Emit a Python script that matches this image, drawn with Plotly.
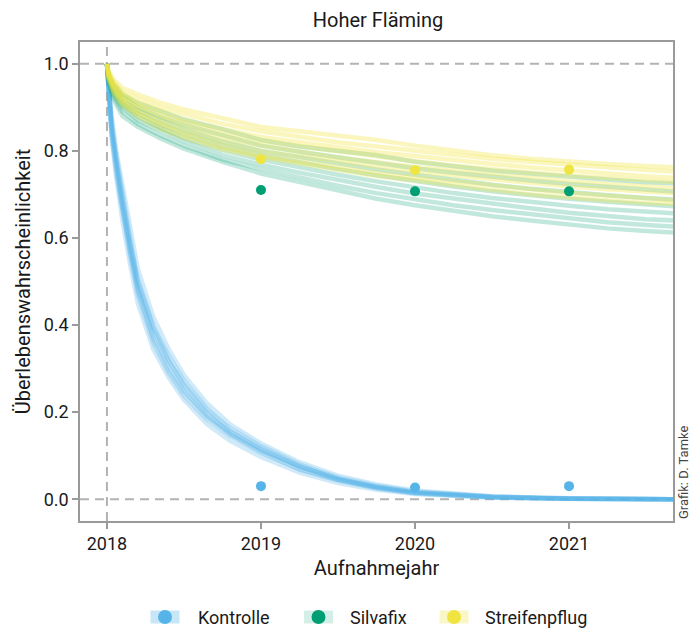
import plotly.graph_objects as go

# ---------------- data ----------------
groups = ["Kontrolle", "Silvafix", "Streifenpflug"]
colors = {"Kontrolle": "#56B4E9", "Silvafix": "#009E73", "Streifenpflug": "#F0E442"}
line_rgba = {"Kontrolle": "rgba(86,180,233,0.28)",
             "Silvafix": "rgba(0,158,115,0.24)",
             "Streifenpflug": "rgba(240,228,66,0.35)"}
legend_key_fill = {"Kontrolle": "rgba(86,180,233,0.33)",
                   "Silvafix": "rgba(0,158,115,0.17)",
                   "Streifenpflug": "rgba(240,228,66,0.30)"}

# time grid of the Kontrolle curves (years)
t_kontrolle = [2018.0, 2018.01, 2018.03, 2018.06, 2018.1, 2018.15, 2018.2, 2018.3, 2018.4, 2018.5,
               2018.65, 2018.8, 2019.0, 2019.25, 2019.5, 2019.75, 2020.0, 2020.5, 2021.0, 2021.7]
# time grid of the Silvafix / Streifenpflug curves (years)
t_treat = [2018.0, 2018.01, 2018.04, 2018.1, 2018.2, 2018.35, 2018.5, 2018.75, 2019.0, 2019.25,
           2019.5, 2019.75, 2020.0, 2020.25, 2020.5, 2020.75, 2021.0, 2021.25, 2021.5, 2021.7]

kontrolle_curves = [
    [1, 0.96, 0.88, 0.80, 0.72, 0.62, 0.53, 0.42, 0.345, 0.285, 0.22, 0.172, 0.128, 0.085, 0.054, 0.034, 0.020, 0.007, 0.002, 0],
    [1, 0.93, 0.83, 0.74, 0.64, 0.54, 0.45, 0.345, 0.28, 0.228, 0.172, 0.134, 0.097, 0.061, 0.037, 0.022, 0.012, 0.004, 0.001, 0],
    [1, 0.95, 0.87, 0.79, 0.70, 0.60, 0.50, 0.395, 0.33, 0.272, 0.208, 0.158, 0.115, 0.076, 0.046, 0.029, 0.016, 0.005, 0.001, 0],
    [1, 0.93, 0.84, 0.75, 0.66, 0.56, 0.47, 0.36, 0.29, 0.238, 0.183, 0.145, 0.108, 0.068, 0.043, 0.025, 0.013, 0.004, 0.001, 0],
    [1, 0.94, 0.85, 0.78, 0.69, 0.585, 0.495, 0.39, 0.318, 0.265, 0.205, 0.163, 0.122, 0.080, 0.050, 0.031, 0.018, 0.006, 0.002, 0],
    [1, 0.95, 0.86, 0.77, 0.67, 0.57, 0.485, 0.37, 0.298, 0.246, 0.188, 0.148, 0.107, 0.069, 0.044, 0.026, 0.015, 0.005, 0.001, 0],
    [1, 0.94, 0.86, 0.78, 0.685, 0.59, 0.505, 0.40, 0.32, 0.26, 0.197, 0.150, 0.112, 0.074, 0.047, 0.028, 0.016, 0.006, 0.001, 0],
    [1, 0.93, 0.84, 0.76, 0.67, 0.575, 0.48, 0.375, 0.305, 0.25, 0.192, 0.155, 0.117, 0.075, 0.046, 0.027, 0.014, 0.004, 0.001, 0],
]

silvafix_curves = [
    [1, 0.975, 0.955, 0.93, 0.91, 0.89, 0.872, 0.85, 0.825, 0.81, 0.80, 0.79, 0.775, 0.765, 0.755, 0.748, 0.74, 0.734, 0.728, 0.725],
    [1, 0.975, 0.95, 0.925, 0.90, 0.878, 0.86, 0.835, 0.812, 0.798, 0.785, 0.772, 0.76, 0.75, 0.74, 0.732, 0.724, 0.717, 0.71, 0.706],
    [1, 0.97, 0.945, 0.915, 0.893, 0.87, 0.85, 0.822, 0.80, 0.785, 0.77, 0.757, 0.745, 0.733, 0.722, 0.713, 0.705, 0.698, 0.692, 0.688],
    [1, 0.97, 0.94, 0.91, 0.885, 0.86, 0.84, 0.812, 0.79, 0.773, 0.758, 0.744, 0.73, 0.718, 0.707, 0.698, 0.69, 0.683, 0.676, 0.672],
    [1, 0.965, 0.935, 0.905, 0.878, 0.852, 0.83, 0.802, 0.78, 0.762, 0.745, 0.73, 0.716, 0.703, 0.692, 0.682, 0.674, 0.666, 0.66, 0.656],
    [1, 0.965, 0.93, 0.90, 0.87, 0.845, 0.822, 0.79, 0.768, 0.75, 0.733, 0.717, 0.702, 0.69, 0.678, 0.668, 0.658, 0.65, 0.643, 0.64],
    [1, 0.96, 0.925, 0.89, 0.862, 0.835, 0.812, 0.78, 0.758, 0.738, 0.72, 0.703, 0.688, 0.675, 0.664, 0.654, 0.645, 0.636, 0.63, 0.626],
    [1, 0.96, 0.92, 0.88, 0.855, 0.828, 0.805, 0.775, 0.748, 0.728, 0.708, 0.69, 0.675, 0.662, 0.65, 0.64, 0.63, 0.622, 0.616, 0.612],
]

streifenpflug_curves = [
    [1, 0.985, 0.965, 0.945, 0.93, 0.91, 0.895, 0.875, 0.855, 0.845, 0.835, 0.825, 0.812, 0.80, 0.79, 0.782, 0.775, 0.77, 0.765, 0.762],
    [1, 0.98, 0.96, 0.935, 0.92, 0.90, 0.885, 0.862, 0.845, 0.832, 0.82, 0.81, 0.80, 0.79, 0.782, 0.775, 0.768, 0.762, 0.756, 0.752],
    [1, 0.98, 0.955, 0.93, 0.91, 0.89, 0.872, 0.85, 0.832, 0.82, 0.808, 0.797, 0.788, 0.778, 0.77, 0.762, 0.754, 0.748, 0.742, 0.738],
    [1, 0.975, 0.95, 0.925, 0.905, 0.882, 0.865, 0.84, 0.822, 0.81, 0.798, 0.787, 0.776, 0.766, 0.757, 0.75, 0.743, 0.737, 0.732, 0.728],
    [1, 0.975, 0.95, 0.92, 0.898, 0.875, 0.855, 0.83, 0.812, 0.798, 0.785, 0.774, 0.763, 0.755, 0.746, 0.738, 0.73, 0.724, 0.718, 0.714],
    [1, 0.97, 0.945, 0.915, 0.89, 0.865, 0.845, 0.82, 0.80, 0.787, 0.775, 0.763, 0.752, 0.743, 0.734, 0.725, 0.718, 0.712, 0.706, 0.702],
    [1, 0.97, 0.94, 0.91, 0.885, 0.86, 0.838, 0.81, 0.79, 0.776, 0.763, 0.75, 0.74, 0.73, 0.72, 0.712, 0.704, 0.697, 0.69, 0.686],
    [1, 0.965, 0.935, 0.905, 0.878, 0.85, 0.83, 0.803, 0.785, 0.77, 0.755, 0.742, 0.732, 0.72, 0.71, 0.70, 0.692, 0.686, 0.68, 0.678],
]

# observed survival (points)
obs_years = [2019, 2020, 2021]
obs_kontrolle = [0.030, 0.027, 0.030]
obs_silvafix = [0.710, 0.707, 0.707]
obs_streifenpflug = [0.781, 0.756, 0.757]

x_ticks = [2018, 2019, 2020, 2021]
y_ticks = [0.0, 0.2, 0.4, 0.6, 0.8, 1.0]

curves = {"Kontrolle": (t_kontrolle, kontrolle_curves),
          "Silvafix": (t_treat, silvafix_curves),
          "Streifenpflug": (t_treat, streifenpflug_curves)}
obs = {"Kontrolle": obs_kontrolle, "Silvafix": obs_silvafix, "Streifenpflug": obs_streifenpflug}

# ---------------- figure ----------------
FONT = "Roboto"
TXT = "#1a1a1a"
W, H = 692, 628
ML, MR, MT, MB = 80, 19, 42, 107
PW, PH = W - ML - MR, H - MT - MB

def px2paper(px, py):
    return (px - ML) / PW, (H - MB - py) / PH

fig = go.Figure()

for g in groups:
    tt, cs = curves[g]
    for c in cs:
        fig.add_trace(go.Scatter(x=tt, y=c, mode="lines", showlegend=False, hoverinfo="skip",
                                 line=dict(color=line_rgba[g], width=4.5)))

for g in groups:
    fig.add_trace(go.Scatter(x=obs_years, y=obs[g], mode="markers", showlegend=False, name=g,
                             marker=dict(color=colors[g], size=10, line=dict(width=0))))

dash_col = "#b3b3b3"
shapes = [
    dict(type="line", xref="paper", yref="y", x0=0, x1=1, y0=0, y1=0,
         line=dict(color=dash_col, width=2, dash="9px,6px"), layer="below"),
    dict(type="line", xref="paper", yref="y", x0=0, x1=1, y0=1, y1=1,
         line=dict(color=dash_col, width=2, dash="9px,6px"), layer="below"),
    dict(type="line", xref="x", yref="paper", x0=2018, x1=2018, y0=0, y1=1,
         line=dict(color=dash_col, width=2, dash="9px,6px"), layer="below"),
]

annotations = []
# custom legend at the bottom (key = light line band + dot, then label)
legend_y = 617
legend_keys = {"Kontrolle": (165, 196), "Silvafix": (318.5, 348), "Streifenpflug": (454, 483)}
for g in groups:
    cx, tx = legend_keys[g]
    x0, y0 = px2paper(cx - 14.5, legend_y + 6.5)
    x1, y1 = px2paper(cx + 14.5, legend_y - 6.5)
    shapes.append(dict(type="rect", xref="paper", yref="paper", x0=x0, x1=x1, y0=y0, y1=y1,
                       fillcolor=legend_key_fill[g], line=dict(width=0), layer="above"))
    x0, y0 = px2paper(cx - 7, legend_y + 7)
    x1, y1 = px2paper(cx + 7, legend_y - 7)
    shapes.append(dict(type="circle", xref="paper", yref="paper", x0=x0, x1=x1, y0=y0, y1=y1,
                       fillcolor=colors[g], line=dict(width=0), layer="above"))
    ax, ay = px2paper(tx, legend_y)
    annotations.append(dict(text=g, xref="paper", yref="paper", x=ax, y=ay, xanchor="left",
                            yanchor="middle", showarrow=False, font=dict(size=18, color=TXT)))

gx, gy = px2paper(683, 521)
annotations.append(dict(text="Grafik: D. Tamke", xref="paper", yref="paper", x=gx, y=gy,
                        xanchor="center", yanchor="bottom", textangle=-90,
                        showarrow=False, font=dict(size=13, color="#444444")))

fig.update_layout(
    width=W, height=H,
    margin=dict(l=ML, r=MR, t=MT, b=MB),
    paper_bgcolor="white", plot_bgcolor="white",
    font=dict(family=FONT, size=18, color=TXT),
    title=dict(text="Hoher Fläming", x=378 / W, xanchor="center", y=1 - 20 / H, yanchor="middle",
               font=dict(size=20, color=TXT)),
    shapes=shapes,
    annotations=annotations,
    showlegend=False,
    xaxis=dict(range=[2017.825, 2021.675], tickvals=x_ticks, ticktext=[str(v) for v in x_ticks],
               showgrid=False, zeroline=False, showline=True, mirror=True, automargin=False,
               linecolor="#9a9a9a", linewidth=1.5, ticks="outside", ticklen=6,
               tickcolor="#9a9a9a", tickwidth=1.5, tickfont=dict(size=18, color=TXT),
               title=dict(text="Aufnahmejahr", font=dict(size=20, color=TXT), standoff=8)),
    yaxis=dict(range=[-0.05, 1.05], tickvals=y_ticks, ticktext=[f"{v:.1f}" for v in y_ticks],
               showgrid=False, zeroline=False, showline=True, mirror=True, automargin=False,
               linecolor="#9a9a9a", linewidth=1.5, ticks="outside", ticklen=6,
               tickcolor="#9a9a9a", tickwidth=1.5, tickfont=dict(size=18, color=TXT),
               title=dict(text="Überlebenswahrscheinlichkeit", font=dict(size=20, color=TXT), standoff=8)),
)

fig.write_html("out.html")
